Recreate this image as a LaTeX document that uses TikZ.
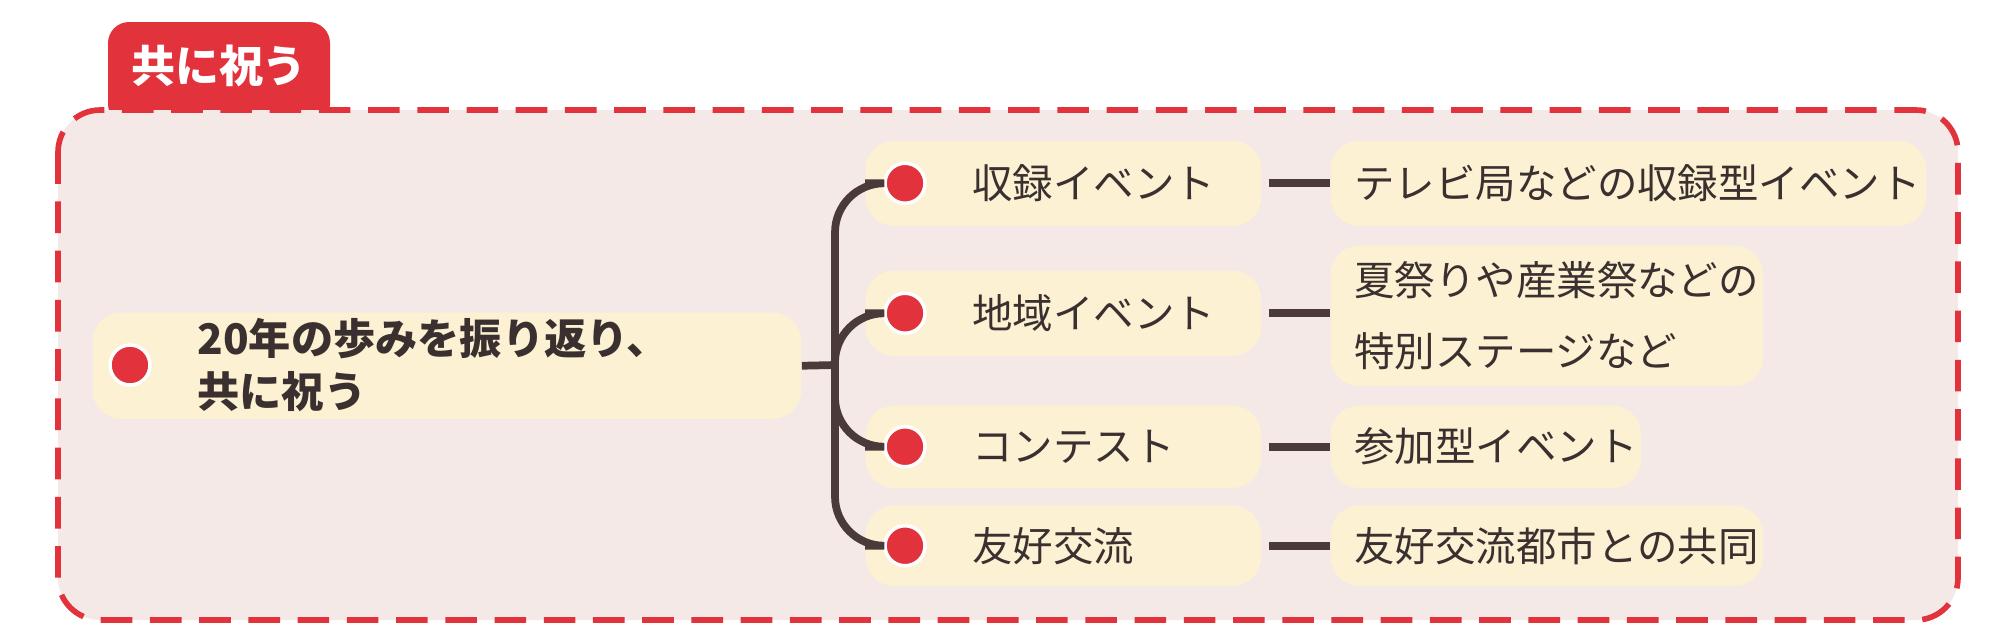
\documentclass[tikz,border=0pt]{standalone}
\usepackage{fontspec}
\setmainfont{Noto Sans CJK JP}
\usetikzlibrary{positioning}
\definecolor{tabred}{HTML}{E2323C}
\definecolor{panelpink}{HTML}{F5E9E7}
\definecolor{boxyellow}{HTML}{FCF1D2}
\definecolor{linebrown}{HTML}{4A3A3A}
\definecolor{txtdark}{HTML}{3A3030}
\begin{document}
\begin{tikzpicture}[x=0.01cm, y=-0.01cm, every node/.style={font=\fontsize{11.5pt}{16pt}\selectfont, text=txtdark},
  topic/.style={rectangle, rounded corners=8pt, fill=boxyellow, inner sep=0pt, anchor=north west},
  dot/.style={circle, fill=tabred, draw=white, line width=1pt, minimum size=0.4cm, inner sep=0pt},
  link/.style={draw=linebrown, line width=2.2pt}
]
\useasboundingbox (0,0) rectangle (2000,632);
% Tab and panel
\fill[tabred, rounded corners=6pt] (108,22) rectangle (330,125);
\node[text=white, font=\fontsize{12.5pt}{16pt}\selectfont\bfseries] (tab) at (219,66) {共に祝う};
\draw[tabred, dashed, dash pattern=on 9pt off 5pt, line width=1.6pt, fill=panelpink, rounded corners=12pt] (58,110) rectangle (1958,620);
% Root
\node[topic, minimum width=7.08cm, minimum height=1.06cm] (root) at (92,312) {};
\node[dot] (rootdot) at (130,365) {};
\node[anchor=west, align=left, font=\fontsize{12pt}{15pt}\selectfont\bfseries] (roottext) at (185,365) {20年の歩みを振り返り、\\共に祝う};
% Branches
\node[topic, minimum width=3.95cm, minimum height=0.85cm] (rec) at (865,140) {};
\node[topic, minimum width=3.95cm, minimum height=0.85cm] (loc) at (865,270) {};
\node[topic, minimum width=3.95cm, minimum height=0.82cm] (con) at (865,405) {};
\node[topic, minimum width=3.95cm, minimum height=0.8cm] (fri) at (865,505) {};
\foreach \n/\t in {rec/収録イベント, loc/地域イベント, con/コンテスト, fri/友好交流}{
  \node[dot] (\n dot) at ([xshift=0.4cm]\n.west) {};
  \node[anchor=west] (\n text) at ([xshift=0.95cm]\n.west) {\t};
}
% Leaves
\node[topic, minimum width=5.95cm, minimum height=0.85cm] (recleaf) at (1330,140) {};
\node[anchor=west] at ([xshift=0.12cm]recleaf.west) {テレビ局などの収録型イベント};
\node[topic, minimum width=4.32cm, minimum height=1.4cm] (locleaf) at (1330,245) {};
\node[anchor=west, align=left, font=\fontsize{11.5pt}{20pt}\selectfont] at ([xshift=0.12cm]locleaf.west) {夏祭りや産業祭などの\\特別ステージなど};
\node[topic, minimum width=3.1cm, minimum height=0.82cm] (conleaf) at (1330,405) {};
\node[anchor=west] at ([xshift=0.12cm]conleaf.west) {参加型イベント};
\node[topic, minimum width=4.32cm, minimum height=0.8cm] (frileaf) at (1330,505) {};
\node[anchor=west] at ([xshift=0.12cm]frileaf.west) {友好交流都市との共同};
% Connectors
\coordinate (trunk) at (835,365);
\draw[link] (root.east) -- (trunk);
\draw[link, rounded corners=14pt] (rec.west) -| (trunk) |- (fri.west);
\draw[link, rounded corners=14pt] (loc.west) -| (trunk) |- (con.west);
\foreach \n in {rec, loc, con, fri}
  \draw[link] ([xshift=2pt]\n.east) -- (\n leaf.west |- \n.east);
\end{tikzpicture}
\end{document}
